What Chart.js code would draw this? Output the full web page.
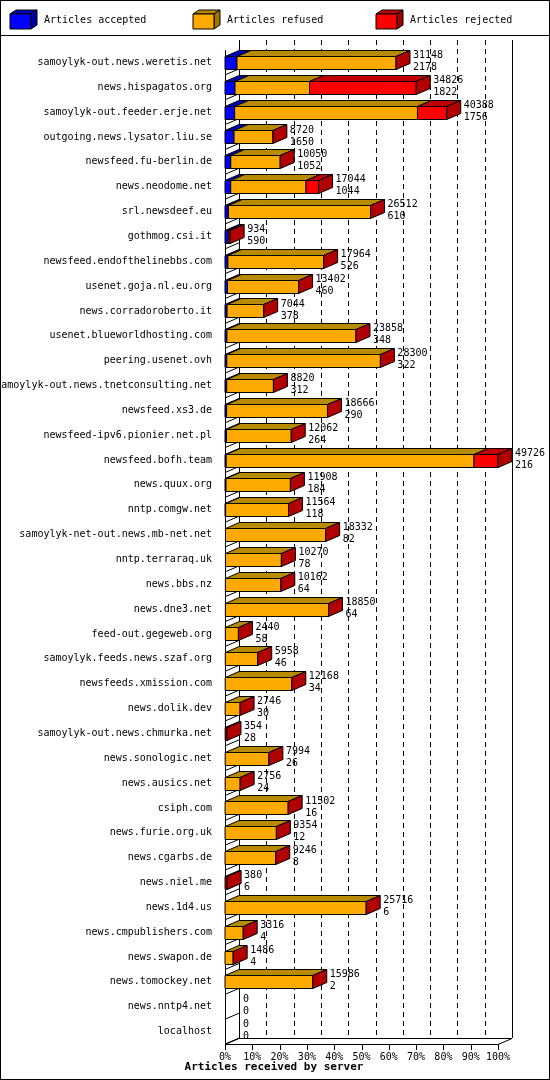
<!DOCTYPE html>
<html><head><meta charset="utf-8">
<script src="https://cdn.jsdelivr.net/npm/chart.js@4"></script>
<style>html,body{margin:0;padding:0;background:#fff}#w{width:550px;height:1080px;position:relative}</style>
</head><body><div id="w"><canvas id="c" width="550" height="1080"></canvas></div>
<script>
const servers=["samoylyk-out.news.weretis.net","news.hispagatos.org","samoylyk-out.feeder.erje.net","outgoing.news.lysator.liu.se","newsfeed.fu-berlin.de","news.neodome.net","srl.newsdeef.eu","gothmog.csi.it","newsfeed.endofthelinebbs.com","usenet.goja.nl.eu.org","news.corradoroberto.it","usenet.blueworldhosting.com","peering.usenet.ovh","samoylyk-out.news.tnetconsulting.net","newsfeed.xs3.de","newsfeed-ipv6.pionier.net.pl","newsfeed.bofh.team","news.quux.org","nntp.comgw.net","samoylyk-net-out.news.mb-net.net","nntp.terraraq.uk","news.bbs.nz","news.dne3.net","feed-out.gegeweb.org","samoylyk.feeds.news.szaf.org","newsfeeds.xmission.com","news.dolik.dev","samoylyk-out.news.chmurka.net","news.sonologic.net","news.ausics.net","csiph.com","news.furie.org.uk","news.cgarbs.de","news.niel.me","news.1d4.us","news.cmpublishers.com","news.swapon.de","news.tomockey.net","news.nntp4.net","localhost"];
const accepted=[2178,1822,1756,1650,1052,1044,610,590,526,460,378,348,322,312,290,264,216,184,118,82,78,64,64,58,46,34,30,28,26,24,16,12,8,6,6,4,4,2,0,0];
const refused=[28970,13570,33300,7070,8998,13710,25902,0,17438,12942,6666,23510,27978,8508,18376,11798,45139,11724,11446,18250,10192,10098,18786,2382,5912,12134,2716,0,7968,2732,11486,9342,9238,0,25710,3312,1482,15984,0,0];
const rejected=[0,19434,5332,0,0,2290,0,344,0,0,0,0,0,0,0,0,4371,0,0,0,0,0,0,0,0,0,0,326,0,0,0,0,0,374,0,0,0,0,0,0];
const tickLabels=["0%","10%","20%","30%","40%","50%","60%","70%","80%","90%","100%"];
const legendNames=["Articles accepted","Articles refused","Articles rejected"];
const MAXV=49726;
const FRONT=["#0000ff","#ffaa00","#ff0000"], TOP=["#0000c0","#b88a00","#c00000"], SIDE=["#0000a0","#a07800","#a00000"];
const DX=14, DY=6, FONT='10px "DejaVu Sans Mono"';
function quad(ctx,p,fill){ctx.beginPath();ctx.moveTo(p[0][0],p[0][1]);for(let i=1;i<p.length;i++)ctx.lineTo(p[i][0],p[i][1]);ctx.closePath();ctx.fillStyle=fill;ctx.fill();ctx.stroke();}
const deco={id:'deco',
 beforeDatasetsDraw(ch){const c=ch.ctx,a=ch.chartArea,x=ch.scales.x,y=ch.scales.y;c.save();c.strokeStyle="#000";c.lineWidth=1;
  // frame
  c.strokeRect(0.5,0.5,549,1079);c.beginPath();c.moveTo(0,35.5);c.lineTo(550,35.5);c.stroke();
  // legend
  c.font=FONT;c.textBaseline='middle';const lx=[10,193,376];
  for(let k=0;k<3;k++){const x0=lx[k],y0=14,w=21,h=15,d=6;
   quad(c,[[x0,y0],[x0+w,y0],[x0+w+d,y0-d+2],[x0+d,y0-d+2]],TOP[k]);
   quad(c,[[x0+w,y0],[x0+w+d,y0-d+2],[x0+w+d,y0+h-d+2],[x0+w,y0+h]],SIDE[k]);
   quad(c,[[x0,y0],[x0+w,y0],[x0+w,y0+h],[x0,y0+h]],FRONT[k]);
   c.fillStyle="#000";c.textAlign='left';c.fillText(legendNames[k],x0+34,20);}
  const bx0=x.getPixelForValue(0),bx1=x.getPixelForValue(MAXV),top=40,bot=a.bottom;
  // back wall gridlines
  c.beginPath();c.moveTo(Math.round(bx0+DX)+0.5,top);c.lineTo(Math.round(bx0+DX)+0.5,bot-DY);c.moveTo(Math.round(bx1+DX)+0.5,top);c.lineTo(Math.round(bx1+DX)+0.5,bot-DY);c.stroke();
  c.setLineDash([5,4]);c.beginPath();
  for(let k=1;k<10;k++){const px=Math.round(x.getPixelForValue(MAXV*k/10)+DX)+0.5;c.moveTo(px,top);c.lineTo(px,bot-DY);}c.stroke();c.setLineDash([]);
  // floor
  c.beginPath();c.moveTo(bx0+DX,bot-DY+0.5);c.lineTo(bx1+DX,bot-DY+0.5);c.lineTo(bx1,bot+0.5);c.lineTo(bx0,bot+0.5);c.lineTo(bx0+DX,bot-DY+0.5);c.stroke();
  // left wall
  c.beginPath();c.moveTo(Math.round(bx0)+0.5,a.top);c.lineTo(Math.round(bx0)+0.5,bot+6);
  for(let i=0;i<servers.length;i++){const yy=y.getPixelForValue(i)+12.5;c.moveTo(bx0,yy);c.lineTo(bx0+DX,yy-DY);}
  // ticks
  for(let k=0;k<=10;k++){const px=Math.round(x.getPixelForValue(MAXV*k/10))+0.5;c.moveTo(px,bot);c.lineTo(px,bot+6);}
  c.stroke();
  c.fillStyle="#000";c.textAlign='center';
  for(let k=0;k<=10;k++){c.fillText(tickLabels[k],x.getPixelForValue(MAXV*k/10),bot+13);}
  c.font='bold 11px "DejaVu Sans Mono"';c.fillText("Articles received by server",274,1067);
  c.restore();},
 afterDatasetsDraw(ch){const c=ch.ctx;c.save();c.strokeStyle="#000";c.lineWidth=1;c.font=FONT;c.textBaseline='middle';c.textAlign='left';c.fillStyle="#000";
  const metas=[0,1,2].map(k=>ch.getDatasetMeta(k));
  for(let i=0;i<servers.length;i++){let last=null,total=accepted[i]+refused[i]+rejected[i];
   for(let k=0;k<3;k++){const e=metas[k].data[i];const x0=Math.min(e.x,e.base),x1=Math.max(e.x,e.base);if(x1-x0<0.5)continue;
    const yt=Math.round(e.y-e.height/2)+0.5,yb=Math.round(e.y+e.height/2)+0.5;
    quad(c,[[x0,yt],[x1,yt],[x1,yb],[x0,yb]],FRONT[k]);
    quad(c,[[x0,yt],[x1,yt],[x1+DX,yt-DY],[x0+DX,yt-DY]],TOP[k]);
    last={x1,yt,yb,k};}
   const cy=metas[0].data[i].y;let tx=ch.scales.x.getPixelForValue(0)+DX+4;
   if(last){quad(c,[[last.x1,last.yt],[last.x1+DX,last.yt-DY],[last.x1+DX,last.yb-DY],[last.x1,last.yb]],"#b00000");tx=last.x1+DX+3;}
   c.fillStyle="#000";c.fillText(String(total),tx,cy-7);c.fillText(String(accepted[i]),tx,cy+5);}
  c.restore();}};
new Chart(document.getElementById('c'),{type:'bar',
 data:{labels:servers,datasets:[
  {label:legendNames[0],data:accepted,backgroundColor:'rgba(0,0,0,0)'},
  {label:legendNames[1],data:refused,backgroundColor:'rgba(0,0,0,0)'},
  {label:legendNames[2],data:rejected,backgroundColor:'rgba(0,0,0,0)'}]},
 options:{indexAxis:'y',responsive:false,animation:false,devicePixelRatio:1,
  layout:{padding:{top:50,right:52,bottom:36,left:0}},
  datasets:{bar:{barThickness:13,borderWidth:0}},
  plugins:{legend:{display:false},tooltip:{enabled:false}},
  scales:{x:{stacked:true,min:0,max:MAXV,display:false},
   y:{stacked:true,grid:{display:false},border:{display:false},afterFit(s){s.width=225;},
    ticks:{color:'#000',font:{family:'DejaVu Sans Mono',size:10},padding:5,autoSkip:false}}}},
 plugins:[deco]});
</script></body></html>
